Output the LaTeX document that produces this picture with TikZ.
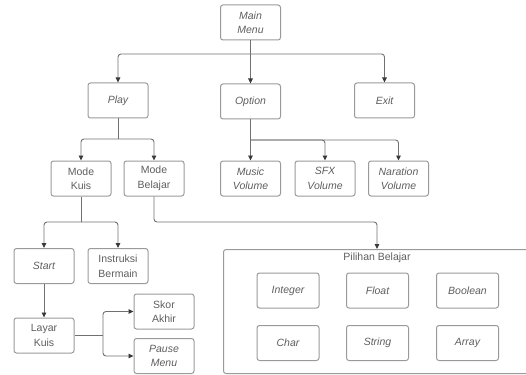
\documentclass[tikz,border=0pt]{standalone}
\usepackage{fontspec}
\setmainfont{Liberation Sans}
\usetikzlibrary{arrows.meta}
\definecolor{boxgray}{HTML}{9A9A9A}
\definecolor{linegray}{HTML}{707070}
\definecolor{txtgray}{HTML}{5E5E5E}
\definecolor{tipgray}{HTML}{3A3A3A}
\begin{document}
\begin{tikzpicture}[x=1pt,y=-1pt,
  box/.style={draw=boxgray, rounded corners=2.5pt, line width=1pt, minimum width=60pt, minimum height=35pt,
    align=center, text=txtgray, inner sep=1pt, font=\fontsize{10.5}{14.5}\selectfont},
  itbox/.style={box, font=\fontsize{10.5}{14.5}\selectfont\itshape},
  conn/.style={draw=linegray, line width=0.9pt, rounded corners=3pt},
  arr/.style={conn, -{Triangle[length=5pt,width=4.5pt,color=tipgray]}}]
\useasboundingbox (0,0) rectangle (526,374);
\begin{scope}
\clip (0,0) rectangle (526,374);
\node[draw=boxgray, line width=1pt, rounded corners=2.5pt, anchor=north west, minimum width=320pt, minimum height=124pt, inner sep=0pt] (cont) at (223,249) {};
\end{scope}
\node[text=txtgray, font=\fontsize{10.5}{12}\selectfont] (title) at (377,258) {Pilihan Belajar};

\node[itbox] (main) at (250.5,22.5) {Main\\Menu};
\node[itbox] (play) at (118,100.5) {Play};
\node[itbox] (option) at (250.5,101.5) {Option};
\node[itbox] (exit) at (384.5,100.5) {Exit};

\node[box] (kuis) at (81,178.5) {Mode\\Kuis};
\node[box] (belajar) at (154,178.5) {Mode\\Belajar};
\node[itbox] (music) at (250.5,178.5) {Music\\Volume};
\node[itbox] (sfx) at (325,178.5) {SFX\\Volume};
\node[itbox] (naration) at (398.5,178.5) {Naration\\Volume};

\node[itbox] (start) at (44,266) {Start};
\node[box] (instruksi) at (118,266) {Instruksi\\Bermain};
\node[box] (layar) at (44,335.5) {Layar\\Kuis};
\node[box] (skor) at (164,311.5) {Skor\\Akhir};
\node[itbox] (pause) at (164,356) {Pause\\Menu};

\node[itbox, minimum width=62pt] (integer) at (288,290.5) {Integer};
\node[itbox, minimum width=62pt] (float) at (377.5,290.5) {Float};
\node[itbox, minimum width=62pt] (boolean) at (467.5,290.5) {Boolean};
\node[itbox, minimum width=62pt] (char) at (288,343) {Char};
\node[itbox, minimum width=62pt] (string) at (377.5,343) {String};
\node[itbox, minimum width=62pt] (array) at (467.5,343) {Array};

\coordinate (b1) at (250.5,54);
\draw[conn] (main.south) -- (b1);
\draw[arr] (b1) -- (option.north);
\draw[arr] (b1) -| (play.north);
\draw[arr] (b1) -| (exit.north);

\coordinate (b2) at (118,139);
\draw[conn] (play.south) -- (b2);
\draw[arr] (b2) -| (kuis.north);
\draw[arr] (b2) -| (belajar.north);

\coordinate (b3) at (250.5,140);
\draw[arr] (option.south) -- (music.north);
\draw[arr] (b3) -| (sfx.north);
\draw[arr] (b3) -| (naration.north);

\coordinate (b4) at (81,222);
\draw[conn] (kuis.south) -- (b4);
\draw[arr] (b4) -| (start.north);
\draw[arr] (b4) -| (instruksi.north);

\coordinate (b5) at (154,222);
\draw[arr] (belajar.south) |- (title.north |- b5) -- (title.north |- cont.north);

\draw[arr] (start.south) -- (layar.north);

\coordinate (b6) at (103,335.5);
\draw[conn] (layar.east) -- (b6);
\draw[arr] (b6) |- (skor.west);
\draw[arr] (b6) |- (pause.west);
\end{tikzpicture}
\end{document}
